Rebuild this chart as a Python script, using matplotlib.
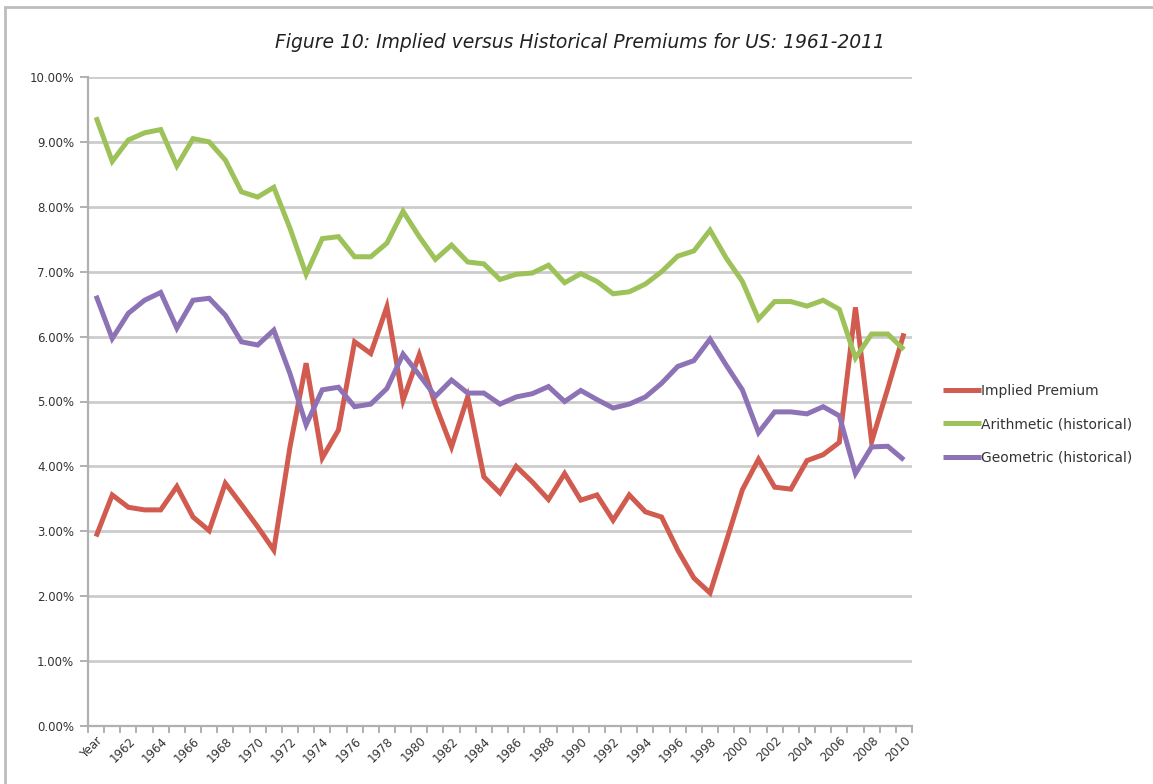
import matplotlib
matplotlib.use("Agg")
import matplotlib.pyplot as plt
from matplotlib.patches import Rectangle
from matplotlib.ticker import FixedLocator, FuncFormatter

categories = ["Year"] + [str(y) for y in range(1961, 2011)]

implied = [2.92, 3.56, 3.37, 3.33, 3.33, 3.69, 3.22, 3.01, 3.74, 3.41,
           3.07, 2.71, 4.30, 5.59, 4.13, 4.56, 5.92, 5.74, 6.46, 5.02,
           5.72, 4.95, 4.30, 5.07, 3.84, 3.59, 4.00, 3.76, 3.49, 3.89,
           3.48, 3.56, 3.17, 3.56, 3.30, 3.22, 2.71, 2.28, 2.05, 2.84,
           3.64, 4.11, 3.68, 3.65, 4.09, 4.18, 4.37, 6.45, 4.38, 5.20,
           6.05]

arithmetic = [9.38, 8.70, 9.03, 9.14, 9.19, 8.63, 9.05, 9.00, 8.72, 8.23,
              8.15, 8.30, 7.67, 6.96, 7.51, 7.54, 7.23, 7.23, 7.44, 7.93,
              7.54, 7.19, 7.41, 7.15, 7.12, 6.88, 6.96, 6.98, 7.10, 6.83,
              6.97, 6.85, 6.66, 6.69, 6.81, 7.00, 7.24, 7.32, 7.64, 7.21,
              6.85, 6.27, 6.54, 6.54, 6.47, 6.56, 6.42, 5.67, 6.04, 6.04,
              5.80]

geometric = [6.63, 5.97, 6.36, 6.56, 6.68, 6.13, 6.56, 6.59, 6.33, 5.92,
             5.87, 6.10, 5.43, 4.64, 5.18, 5.22, 4.92, 4.96, 5.20, 5.73,
             5.41, 5.08, 5.33, 5.13, 5.13, 4.96, 5.07, 5.12, 5.23, 5.00,
             5.17, 5.03, 4.90, 4.96, 5.07, 5.28, 5.54, 5.63, 5.96, 5.56,
             5.18, 4.52, 4.84, 4.84, 4.81, 4.92, 4.78, 3.89, 4.30, 4.31,
             4.10]

series_names = ["Implied Premium", "Arithmetic (historical)", "Geometric (historical)"]
colors = ["#d15b4f", "#9dc25a", "#8d73b5"]
title = "Figure 10: Implied versus Historical Premiums for US: 1961-2011"

W, H = 1153, 784
fig = plt.figure(figsize=(W / 100, H / 100), dpi=100)
fig.patch.set_facecolor("white")

# chart-area border (cropped Excel frame)
fig.patches.append(Rectangle((5 / W, -0.1), 1.2, 1.1 - 7 / H, transform=fig.transFigure,
                             fill=False, edgecolor="#bdbdbd", linewidth=2.0))

ax = fig.add_axes([88 / W, 1 - 726 / H, (912 - 88) / W, (726 - 77) / H])
x = list(range(len(categories)))
for vals, c, name in zip([implied, arithmetic, geometric], colors, series_names):
    ax.plot(x, vals, color=c, linewidth=3.6, label=name, solid_joinstyle="miter",
            solid_capstyle="butt")

ax.set_xlim(-0.5, len(categories) - 0.5)
ax.set_ylim(0, 10)
ax.set_yticks([i for i in range(11)])
ax.yaxis.set_major_formatter(FuncFormatter(lambda v, p: f"{v:.2f}%"))
ax.grid(axis="y", color="#cccccc", linewidth=2.0)
ax.set_axisbelow(True)

for s in ["top", "right"]:
    ax.spines[s].set_visible(False)
for s in ["left", "bottom"]:
    ax.spines[s].set_color("#b0b0b0")
    ax.spines[s].set_linewidth(1.6)

ax.tick_params(axis="y", length=6, width=1.4, color="#b0b0b0", labelsize=8.5,
               labelcolor="#333333", pad=4)
ax.set_xticks(x[::2])
ax.set_xticklabels(categories[::2], rotation=45, ha="right", rotation_mode="anchor",
                   fontsize=8.5, color="#333333")
ax.tick_params(axis="x", which="major", length=0, pad=6)
ax.xaxis.set_minor_locator(FixedLocator([i - 0.5 for i in range(len(categories) + 1)]))
ax.tick_params(axis="x", which="minor", length=5, width=1.4, color="#b0b0b0")

fig.text(580 / W, 1 - 42 / H, title, ha="center", va="center", fontsize=13.5,
         style="italic", family=["Liberation Sans Narrow", "DejaVu Sans"], color="#222222")

leg = ax.legend(loc="center left", bbox_to_anchor=(943 / W, 1 - 424 / H),
                bbox_transform=fig.transFigure, frameon=False, fontsize=10,
                handlelength=2.7, handletextpad=0.05, labelspacing=1.4, borderaxespad=0,
                borderpad=0)
for t in leg.get_texts():
    t.set_color("#333333")

fig.savefig("out.png", dpi=100, facecolor="white")
